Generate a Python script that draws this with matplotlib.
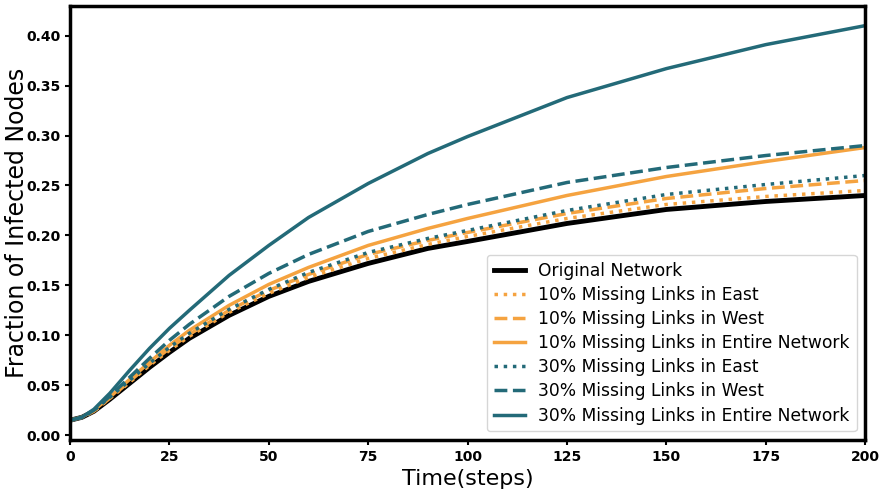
import numpy as np
import matplotlib
matplotlib.use('Agg')
import matplotlib.pyplot as plt

t = [0, 3, 6, 10, 15, 20, 25, 30, 40, 50, 60, 75, 90, 100, 125, 150, 175, 200]

original = [.015, .018, .024, .036, .052, .068, .083, .097, .120, .139, .154, .172, .187, .194, .212, .226, .234, .240]
east10 = [.015, .018, .024, .037, .053, .070, .085, .099, .123, .142, .158, .177, .191, .199, .217, .231, .239, .245]
west10 = [.015, .018, .024, .037, .054, .071, .087, .101, .125, .145, .161, .181, .195, .203, .222, .237, .247, .255]
entire10 = [.015, .018, .025, .038, .056, .073, .090, .105, .130, .151, .168, .190, .207, .217, .240, .259, .274, .288]
east30 = [.015, .018, .025, .038, .055, .072, .088, .102, .126, .146, .163, .183, .197, .205, .225, .241, .251, .260]
west30 = [.015, .018, .025, .039, .058, .077, .095, .111, .139, .162, .181, .204, .221, .231, .253, .268, .280, .290]
entire30 = [.015, .018, .026, .042, .065, .087, .107, .125, .160, .190, .218, .252, .282, .299, .338, .367, .391, .410]

orange = '#f5a340'
teal = '#236a78'

fig = plt.figure(figsize=(8.81, 4.93), dpi=100)
ax = fig.add_axes([0.0795, 0.1075, 0.9025, 0.8805])

ax.plot(t, original, '-', color='black', lw=3.5, label='Original Network')
ax.plot(t, east10, ':', color=orange, lw=2.5, label='10% Missing Links in East')
ax.plot(t, west10, '--', color=orange, lw=2.5, label='10% Missing Links in West')
ax.plot(t, entire10, '-', color=orange, lw=2.5, label='10% Missing Links in Entire Network')
ax.plot(t, east30, ':', color=teal, lw=2.5, label='30% Missing Links in East')
ax.plot(t, west30, '--', color=teal, lw=2.5, label='30% Missing Links in West')
ax.plot(t, entire30, '-', color=teal, lw=2.5, label='30% Missing Links in Entire Network')

ax.set_xlim(0, 200)
ax.set_xticks(np.arange(0, 201, 25))
ax.set_xlabel('Time(steps)', fontsize=16)
ax.set_ylabel('Fraction of Infected Nodes', fontsize=17)
ax.yaxis.set_label_coords(-0.052, 0.5)
for s in ax.spines.values():
    s.set_linewidth(2.5)
ax.tick_params(width=1.5)
for lab in ax.get_xticklabels() + ax.get_yticklabels():
    lab.set_fontweight('bold')
    lab.set_fontsize(10)
ax.legend(loc='lower right', fontsize=12.3, handlelength=1.8, labelspacing=0.36)

fig.savefig('out.png')
